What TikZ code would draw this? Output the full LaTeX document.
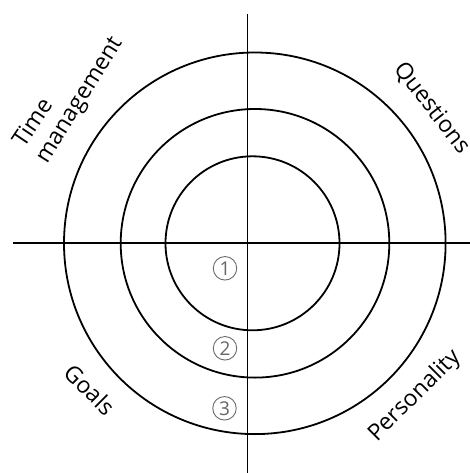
\documentclass[tikz,border=0pt]{standalone}
\usepackage{fontspec}
\setmainfont{Open Sans}
\begin{document}
\begin{tikzpicture}[x=1pt,y=-1pt,
  ring/.style={line width=1.8pt, black},
  axis/.style={line width=1.8pt, black},
  lbl/.style={font=\fontsize{23}{27}\selectfont, inner sep=0pt},
  numc/.style={circle, draw=gray!85!black, line width=0.9pt, minimum size=23.5pt, inner sep=0pt,
    text=gray!80!black, font=\fontsize{19}{19}\selectfont}]
\useasboundingbox (0,0) rectangle (470,473);
\fill[white] (0,0) rectangle (470,473);
% axes
\coordinate (hl) at (13,243.3);
\coordinate (hr) at (470,243.3);
\coordinate (vt) at (247.5,14);
\coordinate (vb) at (247.5,473);
% rings
\coordinate (c3) at (254.8,243.3);
\coordinate (c2) at (255,243.3);
\coordinate (c1) at (252.5,243.3);
\draw[ring] (c3) circle[radius=190.8];
\draw[ring] (c2) circle[radius=134.3];
\draw[ring] (c1) circle[radius=87];
\draw[axis] (hl) -- (hr);
\draw[axis] (vt) -- (vb);
% numbers
\node[numc] (n1) at (225,268.3) {1};
\node[numc] (n2) at (225,348.3) {2};
\node[numc] (n3) at (224.5,408.3) {3};
% labels
\node[lbl, rotate=56] (time) at (32,122) {Time};
\node[lbl, rotate=58] (mgmt) at (81,101) {management};
\node[lbl, rotate=-52] (quest) at (432,108) {Questions};
\node[lbl, rotate=-45] (goals) at (90,389.5) {Goals};
\node[lbl, rotate=45] (pers) at (415,396) {Personality};
\end{tikzpicture}
\end{document}
